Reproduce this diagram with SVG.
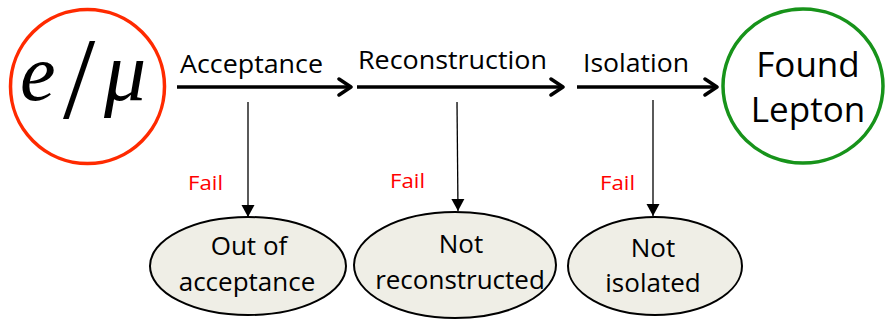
<svg xmlns="http://www.w3.org/2000/svg" width="886" height="322" viewBox="0 0 886 322">
<style>
.lbl{font-family:"Open Sans","Liberation Sans",sans-serif;font-size:25.5px;fill:#000}
.fail{font-family:"Open Sans","Liberation Sans",sans-serif;font-size:20.5px;fill:#ff0000}
.ell{fill:#efeee6;stroke:#000;stroke-width:2}
.etxt{font-family:"Open Sans","Liberation Sans",sans-serif;font-size:26px;fill:#000;text-anchor:middle}
.big{font-family:"Open Sans","Liberation Sans",sans-serif;font-size:35px;fill:#000;text-anchor:middle}
.math{font-family:"Liberation Serif","DejaVu Serif",serif;fill:#000}
.thick{stroke:#000;stroke-width:3.5;fill:none}
.thin{stroke:#000;stroke-width:1.3;fill:none}
</style>
<defs>
<marker id="chev" markerUnits="userSpaceOnUse" markerWidth="20" markerHeight="24" refX="14" refY="10" orient="auto" viewBox="0 0 20 20">
<path d="M2,2 L14,10 L2,18" fill="none" stroke="#000" stroke-width="3.5" stroke-linecap="round" stroke-linejoin="round"/>
</marker>
<marker id="tri" markerUnits="userSpaceOnUse" markerWidth="14" markerHeight="14" refX="12" refY="6.5" orient="auto" viewBox="0 0 14 13">
<path d="M0,0 L12,6.5 L0,13 Z" fill="#000"/>
</marker>
</defs>
<g id="source">
<circle cx="87.5" cy="86.5" r="77" fill="#fff" stroke="#ff2a00" stroke-width="3.5"/>
<text class="math"><tspan x="20" y="100" font-style="italic" font-size="80">e</tspan><tspan x="63" y="118" font-size="116">/</tspan><tspan x="104" y="100" font-style="italic" font-size="84">μ</tspan></text>
</g>
<g id="found">
<ellipse cx="803" cy="86" rx="80" ry="77" fill="#fff" stroke="#17931a" stroke-width="3.5"/>
<text class="big" x="808" y="77">Found</text>
<text class="big" x="808" y="122">Lepton</text>
</g>
<g id="out-of-acceptance">
<ellipse class="ell" cx="248" cy="266" rx="98" ry="49"/>
<text class="etxt" x="249" y="255">Out of</text>
<text class="etxt" x="247" y="291">acceptance</text>
</g>
<g id="not-reconstructed">
<ellipse class="ell" cx="455" cy="265" rx="101" ry="53"/>
<text class="etxt" x="461" y="253">Not</text>
<text class="etxt" x="460" y="289">reconstructed</text>
</g>
<g id="not-isolated">
<ellipse class="ell" cx="655" cy="266" rx="87" ry="49"/>
<text class="etxt" x="653" y="257">Not</text>
<text class="etxt" x="653" y="292">isolated</text>
</g>
<g id="connectors">
<line class="thick" x1="177" y1="87" x2="351" y2="87" marker-end="url(#chev)"/>
<line class="thick" x1="357" y1="87" x2="563" y2="87" marker-end="url(#chev)"/>
<line class="thick" x1="577" y1="87" x2="717" y2="87" marker-end="url(#chev)"/>
<line class="thin" x1="248" y1="102" x2="248" y2="217" marker-end="url(#tri)"/>
<line class="thin" x1="457" y1="102" x2="458" y2="211" marker-end="url(#tri)"/>
<line class="thin" x1="653" y1="100" x2="653" y2="216" marker-end="url(#tri)"/>
<text class="lbl" x="180" y="73" textLength="143" lengthAdjust="spacingAndGlyphs">Acceptance</text>
<text class="lbl" x="358" y="69" textLength="189" lengthAdjust="spacingAndGlyphs">Reconstruction</text>
<text class="lbl" x="583" y="72" textLength="106" lengthAdjust="spacingAndGlyphs">Isolation</text>
<text class="fail" x="188" y="190" textLength="35" lengthAdjust="spacingAndGlyphs">Fail</text>
<text class="fail" x="390" y="188" textLength="35" lengthAdjust="spacingAndGlyphs">Fail</text>
<text class="fail" x="600" y="190" textLength="35" lengthAdjust="spacingAndGlyphs">Fail</text>
</g>
</svg>
